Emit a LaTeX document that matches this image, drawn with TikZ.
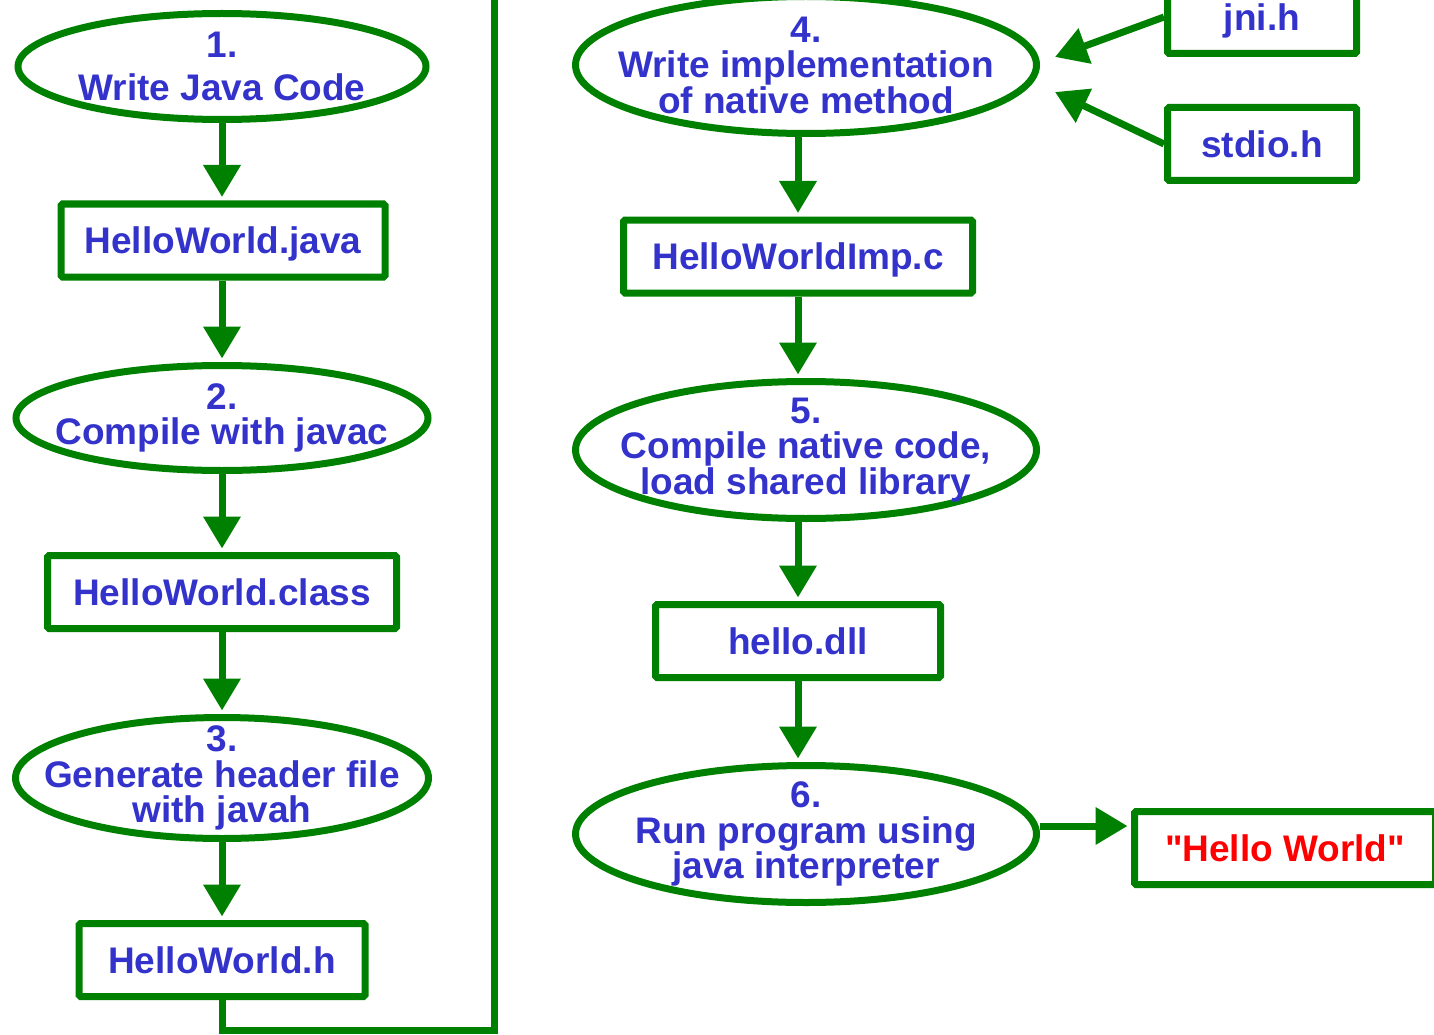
\documentclass[tikz,border=0pt]{standalone}
\usepackage{fontspec}
\setmainfont{Liberation Sans}
\usetikzlibrary{shapes.geometric,arrows.meta}
\definecolor{flowgreen}{RGB}{0,128,0}
\definecolor{flowblue}{RGB}{51,51,204}
\definecolor{flowred}{RGB}{255,0,0}
\begin{document}
\begin{tikzpicture}[x=1pt,y=-1pt,
  every node/.style={font=\bfseries\fontsize{37}{35.5}\selectfont, text=flowblue},
  stage/.style={ellipse, draw=flowgreen, line width=7pt, inner sep=0pt},
  lbl/.style={align=center, inner sep=0pt},
  file/.style={rectangle, draw=flowgreen, line width=7pt, rounded corners=1.5pt,
               inner sep=0pt, minimum height=73pt, text height=26.5pt, text depth=0pt},
  wire/.style={draw=flowgreen, line width=7pt},
  flow/.style={wire, -{Triangle[length=32pt,width=36pt]}, shorten >=3.5pt}
]
\useasboundingbox (0,0) rectangle (1434,1035);

% left column: Java side
\node[stage, minimum width=408pt, minimum height=106pt,
      label={[lbl]center:{1.\\[8pt]Write Java Code}}] (e1) at (222,66.5) {};
\node[file, minimum width=324pt] (java) at (223,240.5) {HelloWorld.java};
\node[stage, minimum width=412pt, minimum height=105pt,
      label={[lbl]center:{2.\\Compile with javac}}] (e2) at (222,418) {};
\node[file, minimum width=349pt] (class) at (222,592) {HelloWorld.class};
\node[stage, minimum width=413pt, minimum height=121pt,
      label={[lbl]center:{3.\\Generate header file\\with javah}}] (e3) at (222,778) {};
\node[file, minimum width=286pt] (hh) at (222,960) {HelloWorld.h};

% right column: native side
\node[stage, minimum width=461pt, minimum height=137pt,
      label={[lbl]center:{4.\\Write implementation\\of native method}}] (e4) at (806,65) {};
\node[file, minimum width=349pt] (imp) at (798,256.5) {HelloWorldImp.c};
\node[stage, minimum width=461pt, minimum height=137pt,
      label={[lbl]center:{5.\\Compile native code,\\load shared library}}] (e5) at (806,450) {};
\node[file, minimum width=285pt] (dll) at (798,641) {hello.dll};
\node[stage, minimum width=461pt, minimum height=137pt,
      label={[lbl]center:{6.\\Run program using\\java interpreter}}] (e6) at (806,834) {};

% headers and output
\node[file, minimum width=189pt] (jni) at (1262,17) {jni.h};
\node[file, minimum width=189pt] (stdio) at (1262,144) {stdio.h};
\node[file, minimum width=301pt, text=flowred] (out) at (1285,848)
  {\textquotedbl Hello World\textquotedbl};

\coordinate (jniTip) at (1055,57);
\coordinate (stdioTip) at (1055,92);
\coordinate (loopCorner) at (494,1030);
\coordinate (loopTop) at (494,-30);

% connectors
\draw[flow] (e1) -- (e1 |- java.north);
\draw[flow] (e1 |- java.south) -- (e2);
\draw[flow] (e2) -- (class);
\draw[flow] (class) -- (e3);
\draw[flow] (e3) -- (hh);
\draw[wire] (hh.south) |- (loopCorner) -- (loopTop);

\draw[flow] (e4.south -| imp.north) -- (imp.north);
\draw[flow] (imp) -- (imp |- e5.north);
\draw[flow] (e5.south -| dll.north) -- (dll.north);
\draw[flow] (dll) -- (dll |- e6.north);
\draw[flow, shorten >=0pt] (jni.west) -- (jniTip);
\draw[flow, shorten >=0pt] (stdio.west) -- (stdioTip);
\draw[flow] ([yshift=8pt]e6.east) -- ([yshift=8pt]e6.east -| out.west);
\end{tikzpicture}
\end{document}
